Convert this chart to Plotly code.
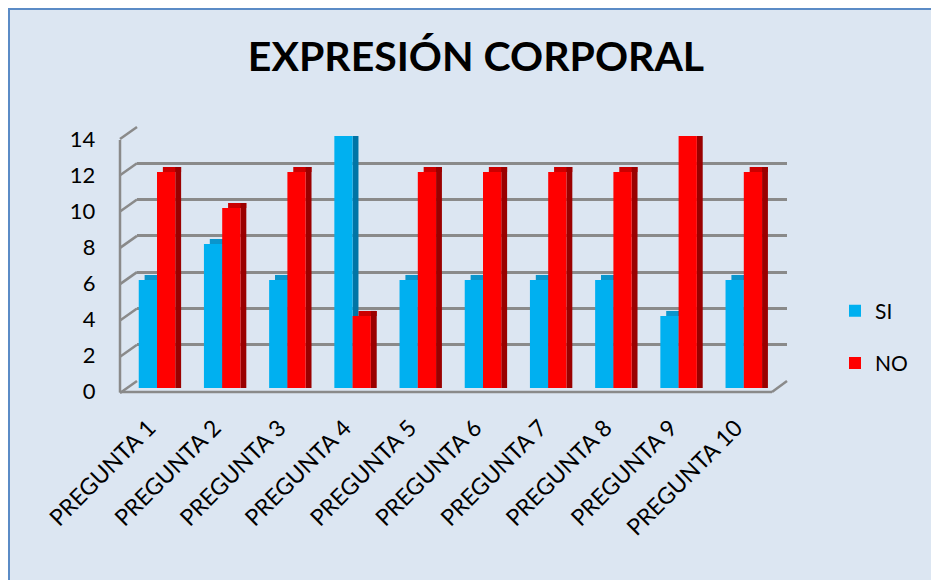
import plotly.graph_objects as go

# data
preguntas = [f"PREGUNTA {i}" for i in range(1, 11)]
si_values = [6, 8, 6, 14, 6, 6, 6, 6, 4, 6]
no_values = [12, 10, 12, 4, 12, 12, 12, 12, 14, 12]
y_ticks = [0, 2, 4, 6, 8, 10, 12, 14]

W, H = 931, 580
BG = "#dce6f2"
GRID = "#8a8a8a"
FONT = "Lato, Calibri, Arial, sans-serif"

# pixel layout of the fake 3D box: back wall (grid) and front plane (bars)
BACK_X0, BACK_X1, BACK_Y0, BACK_Y14 = 137, 787, 381, 127
FRONT_X0, FRONT_X1, FRONT_Y0, FRONT_Y14 = 124.4, 776.4, 388, 136
WALL_X = 120

BAR_W = 0.28   # front face width, category units
SIDE_W = 0.09  # side face width
DEPTH = 0.28   # how far the side/top rise above the front face, value units


def px(x):
    return x / W


def py(y):
    return 1 - y / H


xs = list(range(len(preguntas)))
fig = go.Figure()


def add_bar(values, offset, width, color, name=None, base=None, extra=0.0, show=False):
    fig.add_trace(
        go.Bar(
            x=xs,
            y=[v + extra for v in values] if base is None else [extra] * len(values),
            base=base,
            offset=offset,
            width=width,
            marker=dict(color=color, line=dict(width=0)),
            name=name,
            showlegend=show,
            legendgroup=name,
            cliponaxis=False,
            xaxis="x2",
            yaxis="y2",
            hoverinfo="skip" if not show else None,
        )
    )


# SI column: top cap, side, front
add_bar(si_values, -BAR_W + SIDE_W, BAR_W, "#0a95cc", base=si_values, extra=DEPTH)
add_bar(si_values, 0, SIDE_W, "#0074a6", extra=DEPTH)
add_bar(si_values, -BAR_W, BAR_W, "#00b0f0", name="SI", show=True)
# NO column: top cap, side, front
add_bar(no_values, SIDE_W, BAR_W, "#cc0000", base=no_values, extra=DEPTH)
add_bar(no_values, BAR_W, SIDE_W, "#9a0000", extra=DEPTH)
add_bar(no_values, 0, BAR_W, "#ff0000", name="NO", show=True)

# back wall gridlines live on the first subplot so they sit under the bars
fig.add_trace(go.Scatter(x=[0], y=[0], mode="markers", marker=dict(opacity=0),
                         showlegend=False, hoverinfo="skip"))

shapes = [
    # chart area fill and border
    dict(type="rect", xref="paper", yref="paper", x0=px(9), x1=px(W + 20), y0=py(H + 20), y1=py(9),
         fillcolor=BG, line=dict(color="#5b8bc6", width=2), layer="below"),
    # left wall vertical edge
    dict(type="line", xref="paper", yref="paper", x0=px(WALL_X), x1=px(WALL_X),
         y0=py(BACK_Y0 + 11.5), y1=py(BACK_Y14 + 13), line=dict(color=GRID, width=2.5)),
    # floor front edge and right diagonal
    dict(type="line", xref="paper", yref="paper", x0=px(WALL_X), x1=px(772),
         y0=py(392), y1=py(392), line=dict(color=GRID, width=2.5)),
    dict(type="line", xref="paper", yref="paper", x0=px(772), x1=px(BACK_X1),
         y0=py(392), y1=py(BACK_Y0), line=dict(color=GRID, width=2.5)),
]
unit = (BACK_Y0 - BACK_Y14) / 14
for k in y_ticks:
    yb = BACK_Y0 - k * unit
    shapes.append(dict(type="line", xref="paper", yref="paper", x0=px(WALL_X), x1=px(BACK_X0),
                       y0=py(yb + 12), y1=py(yb), line=dict(color=GRID, width=2.5)))

fig.update_layout(
    template="none",
    width=W,
    height=H,
    margin=dict(l=0, r=0, t=0, b=0, pad=0),
    paper_bgcolor="white",
    plot_bgcolor="rgba(0,0,0,0)",
    barmode="overlay",
    font=dict(family=FONT, color="#000000"),
    title=dict(text="<b>EXPRESIÓN CORPORAL</b>", x=px(476), xanchor="center", xref="paper",
               y=py(57), yanchor="middle", yref="container",
               font=dict(size=41, family=FONT, color="#000000")),
    xaxis=dict(domain=[px(BACK_X0), px(BACK_X1)], range=[0, 1], visible=False,
               fixedrange=True, automargin=False),
    yaxis=dict(domain=[py(BACK_Y0), py(BACK_Y14)], range=[0, 14], tickvals=y_ticks,
               showticklabels=False, showgrid=True, gridcolor=GRID, gridwidth=2.5,
               zeroline=False, showline=False, ticks="", automargin=False),
    xaxis2=dict(domain=[px(FRONT_X0), px(FRONT_X1)], range=[-0.5, len(xs) - 0.5],
                anchor="y2", tickvals=xs, ticktext=preguntas, tickangle=-45,
                tickfont=dict(size=23, family=FONT), showgrid=False, zeroline=False,
                showline=False, ticks="", ticklabelstandoff=21, ticklabelshift=-8,
                automargin=False),
    yaxis2=dict(domain=[py(FRONT_Y0), py(FRONT_Y14)], range=[0, 14], anchor="x2",
                tickvals=y_ticks, tickfont=dict(size=22, family=FONT), showgrid=False,
                zeroline=False, showline=False, ticks="", ticklabelstandoff=28,
                ticklabelshift=3, automargin=False),
    legend=dict(x=px(835), xanchor="left", y=py(337), yanchor="middle",
                font=dict(size=21, family=FONT), bgcolor="rgba(0,0,0,0)",
                tracegroupgap=22),
    shapes=shapes,
)

# drop the default page margin so the 931x580 figure fills the window exactly
fig.write_html(
    "out.html",
    config={"displayModeBar": False},
    post_script="document.body.style.margin='0';document.body.style.overflow='hidden';",
)
